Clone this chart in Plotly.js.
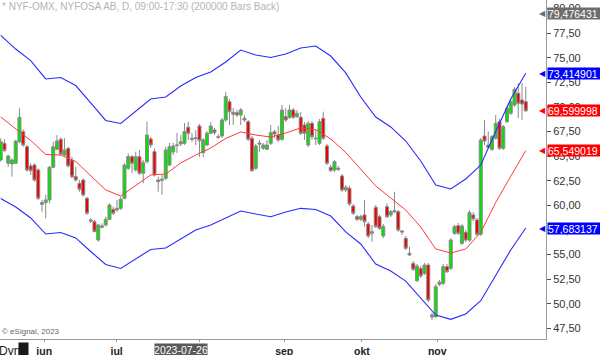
<!DOCTYPE html>
<html><head><meta charset="utf-8">
<script src="https://cdn.plot.ly/plotly-3.0.1.min.js"></script>
<style>html,body{margin:0;padding:0;background:#fff;overflow:hidden}#chart{width:600px;height:355px}</style>
</head><body><div id="chart"></div>
<script>
// OHLC values, one per daily bar (NYFOSA AB)
const openP = [
64.60,66.30,64.27,64.20,64.27,66.46,67.48,65.95,64.00,64.09,
63.59,60.27,60.27,60.54,63.86,65.69,66.71,65.11,65.79,64.60,
62.91,62.24,62.57,60.71,58.51,58.33,56.47,57.76,58.00,58.58,
59.59,59.52,59.70,60.71,63.76,64.94,63.59,64.94,63.25,64.43,
66.74,65.45,62.57,62.54,62.74,64.09,65.42,66.08,66.23,66.30,
67.93,66.81,66.86,68.06,65.35,66.13,67.32,67.65,66.97,67.04,
68.67,70.53,69.25,69.41,69.18,68.84,68.50,66.81,63.76,66.33,
65.79,65.69,66.30,67.48,67.14,66.71,69.00,68.94,69.69,69.00,
68.94,68.16,66.13,68.33,66.84,66.30,68.84,66.03,63.86,63.59,
63.76,62.98,61.56,61.73,59.93,58.84,58.58,59.02,58.10,57.15,
59.79,58.84,56.88,59.86,59.02,59.45,59.35,57.39,56.64,55.12,
54.10,52.33,53.59,53.08,53.93,48.65,48.68,51.96,52.07,53.76,
53.59,57.15,57.93,56.13,57.25,56.47,59.02,58.51,57.05,67.04,
66.13,65.69,66.81,68.50,65.79,68.50,69.35,70.19,71.38,70.70,70.53];
const highP = [
66.81,66.71,65.12,64.77,66.64,69.86,67.72,66.13,64.27,64.27,
63.76,60.54,61.05,63.99,66.46,67.14,66.91,66.81,65.95,64.94,
63.92,62.57,62.74,60.87,58.71,58.51,58.10,58.17,58.84,60.20,
59.86,60.54,60.87,64.27,65.28,65.11,65.45,65.62,64.60,68.50,
66.94,65.79,62.91,63.08,65.95,66.33,66.33,67.35,67.14,68.36,
68.50,67.35,67.65,68.26,66.84,67.55,68.47,67.86,67.25,68.87,
71.51,70.80,69.89,69.69,69.89,69.18,68.67,67.04,66.23,66.64,
66.33,66.64,68.16,67.65,68.06,70.19,69.89,70.19,69.89,69.69,
69.48,68.47,68.57,68.57,67.65,68.77,69.51,66.23,64.09,64.60,
63.99,63.18,62.06,61.96,60.13,59.02,59.02,60.54,58.30,58.00,
60.03,59.02,58.10,60.20,59.52,61.38,59.52,57.49,56.88,55.80,
54.34,54.03,53.83,54.13,54.13,49.06,52.00,52.41,54.03,54.03,
56.67,58.00,58.20,58.10,57.49,59.52,59.32,58.71,66.84,68.67,
67.48,67.14,69.18,68.77,68.16,70.09,70.80,72.02,72.40,72.43,72.05];
const lowP = [
64.43,65.45,63.92,62.91,64.20,66.30,65.95,63.42,63.08,62.40,
60.54,59.35,58.68,60.20,63.76,65.62,65.01,64.94,63.86,62.74,
62.40,61.38,60.87,59.02,58.20,57.29,56.30,57.66,57.83,58.51,
59.02,59.35,59.52,60.61,63.59,63.25,63.42,63.08,62.24,64.27,
65.82,62.91,61.38,61.05,62.57,63.99,65.11,65.31,66.03,66.13,
66.64,66.43,66.13,64.91,64.91,66.03,67.25,67.14,66.74,66.84,
68.47,68.16,68.16,68.97,68.16,68.47,66.54,63.38,63.59,65.45,
65.62,65.62,66.13,66.84,66.43,66.54,68.47,68.77,68.77,68.87,
67.14,66.64,65.92,66.64,66.13,66.13,66.64,64.09,63.38,63.38,
63.49,61.35,61.35,59.93,59.02,58.40,58.40,57.83,56.67,56.30,
57.69,57.49,56.67,58.68,58.81,59.21,57.29,56.98,55.46,54.85,
53.32,52.20,52.61,52.91,50.17,48.34,48.55,51.80,51.90,53.12,
53.42,56.98,56.98,55.97,56.27,56.27,58.40,56.88,56.88,66.13,
65.72,65.52,66.64,65.62,65.62,68.36,69.18,69.99,68.87,68.67,69.48];
const closeP = [
66.46,65.55,65.01,64.60,66.53,68.94,66.13,63.59,63.52,62.57,
60.71,60.10,60.54,63.86,65.95,66.53,65.21,65.62,64.00,62.91,
62.57,61.63,61.05,59.19,58.40,57.32,58.00,57.90,58.58,60.03,
59.19,59.70,60.61,64.09,64.94,64.27,64.94,63.25,64.33,67.14,
66.13,63.08,62.40,62.64,65.62,65.95,66.03,66.13,66.46,67.48,
67.32,66.71,66.80,66.57,66.64,67.32,68.06,67.38,66.91,68.67,
71.04,69.51,69.45,69.18,69.69,68.67,66.71,63.52,66.03,66.23,
66.13,66.13,67.38,67.25,66.64,69.69,68.67,69.69,68.94,69.35,
67.32,67.32,68.33,66.97,66.77,68.50,66.81,64.27,63.52,64.43,
63.66,61.56,61.83,60.13,59.19,58.58,58.84,58.33,56.88,57.32,
57.83,57.66,57.83,58.84,59.35,59.35,57.49,57.29,55.63,54.95,
53.49,53.83,52.81,53.93,50.38,48.85,51.73,52.20,53.76,53.25,
56.47,57.83,57.15,57.90,56.47,59.25,58.61,57.05,66.64,66.53,
65.89,66.97,68.33,65.79,67.99,69.86,70.53,71.79,70.36,70.29,69.60];

// Band indicator (blue upper/lower, red middle), read every 4th bar
const bandBars = [0,4,8,12,16,20,24,28,32,36,40,44,48,52,56,60,64,68,72,76,80,84,88,92,96,100,104,108,112,116,120,124,128,132,136,140];
const upperBand = [77.26,75.88,74.70,72.84,72.99,72.17,70.40,68.62,68.31,69.53,70.80,71.01,72.12,72.99,73.55,74.56,75.78,75.27,75.02,75.38,75.99,76.19,75.17,73.45,71.01,68.97,67.96,66.53,64.50,62.06,61.66,62.67,64.09,67.50,70.80,73.41];
const midBand = [68.97,67.75,66.58,65.16,65.11,64.45,63.01,61.56,60.94,61.99,63.08,63.18,64.30,65.11,65.82,66.79,67.45,67.14,66.94,67.35,67.86,67.70,66.74,65.37,63.69,61.96,60.74,59.52,57.79,55.56,55.15,55.56,57.25,60.30,62.95,65.55];
const lowerBand = [60.69,59.83,58.71,57.08,57.23,56.68,55.30,53.98,53.58,54.54,55.51,55.66,56.57,57.49,58.00,58.71,59.42,59.11,58.84,59.32,59.69,59.57,58.91,57.29,56.07,54.03,53.32,52.30,50.53,48.85,48.41,48.95,50.30,52.92,55.46,57.69];

// Axis labels (the August label is covered by the crosshair date in the reference)
const monthTickBars = [11.6, 30.9, 52.9, 75.6, 96.3, 116.4];
const monthLabels = ['jun','jul','','sep','okt','nov'];

// Right-edge value tags
const tagValues = [79.476431, 73.414901, 69.599998, 65.549019, 57.683137];
const tagColors = ['#6e6e6e', '#0000ff', '#ff0000', '#ff0000', '#0000ff'];

const crosshairBar = 48;
const crosshairDate = '2023-07-26';
const chartTitle = '* NYF-OMX, NYFOSA AB, D, 09:00-17:30 (200000 Bars Back)';
const copyrightText = '\u00a9 eSignal, 2023';

const FONT = 'Liberation Sans, Arial, sans-serif';
const barIndex = openP.map((_, i) => i);

const traces = [
  {
    type: 'candlestick', x: barIndex, open: openP, high: highP, low: lowP, close: closeP,
    increasing: {line: {color: '#8a8a8a', width: 1}, fillcolor: '#00e400'},
    decreasing: {line: {color: '#8a8a8a', width: 1}, fillcolor: '#ee0000'},
    whiskerwidth: 0, showlegend: false, hoverinfo: 'skip'
  },
  {type: 'scatter', mode: 'lines', x: bandBars, y: upperBand, line: {color: '#2a2aff', width: 1.1}, showlegend: false, hoverinfo: 'skip'},
  {type: 'scatter', mode: 'lines', x: bandBars, y: midBand, line: {color: '#ff3a3a', width: 1}, showlegend: false, hoverinfo: 'skip'},
  {type: 'scatter', mode: 'lines', x: bandBars, y: lowerBand, line: {color: '#2a2aff', width: 1.1}, showlegend: false, hoverinfo: 'skip'}
];

const annotations = [];
annotations.push({xref: 'paper', yref: 'paper', x: 0, y: 1, xanchor: 'left', yanchor: 'top', yshift: 1,
  text: chartTitle, showarrow: false, font: {family: FONT, size: 10, color: '#b4b4b4'}});
annotations.push({xref: 'paper', yref: 'paper', x: 0, y: 0, xanchor: 'left', yanchor: 'bottom', yshift: 1,
  text: copyrightText, showarrow: false, font: {family: FONT, size: 8, color: '#666'}});
annotations.push({xref: 'paper', yref: 'paper', x: 0, y: 0, xanchor: 'left', yanchor: 'top', xshift: -3, yshift: -3,
  text: 'Dyn', showarrow: false, font: {family: FONT, size: 12, color: '#222'}});
annotations.push({xref: 'paper', yref: 'paper', x: 0, y: 0, xanchor: 'left', yanchor: 'top', xshift: 18, yshift: -3,
  text: '\u00a0', showarrow: false, bgcolor: '#1a1a1a', width: 9, height: 13, borderpad: 0, font: {family: FONT, size: 10, color: '#888'}});
annotations.push({xref: 'x', yref: 'paper', x: crosshairBar, y: 0, xanchor: 'center', yanchor: 'top', yshift: -4,
  text: crosshairDate, showarrow: false, bgcolor: '#5a5a5a', borderpad: 0, width: 52, height: 12,
  font: {family: FONT, size: 10.5, color: '#fff'}});
tagValues.forEach((v, k) => {
  annotations.push({xref: 'paper', yref: 'y', x: 1, y: v, xanchor: 'left', yanchor: 'middle', xshift: 1,
    text: v.toFixed(6).replace('.', ','), showarrow: false, bgcolor: tagColors[k], borderpad: 0,
    width: 54, height: 11, align: 'left', font: {family: FONT, size: 10.5, color: '#fff'}});
  annotations.push({xref: 'paper', yref: 'y', x: 1, y: v, xanchor: 'right', yanchor: 'middle', xshift: 2,
    text: '\u25c0', showarrow: false, font: {family: 'DejaVu Sans', size: 8, color: tagColors[k]}});
});

const layout = {
  width: 600, height: 355,
  margin: {l: 0, r: 54, t: 0, b: 16, pad: 0},
  paper_bgcolor: '#fff', plot_bgcolor: '#fff',
  separators: ',.',
  showlegend: false,
  boxgap: 0.2, boxgroupgap: 0,
  font: {family: FONT, size: 11, color: '#333'},
  xaxis: {
    range: [-0.19, 145.4], fixedrange: true, rangeslider: {visible: false},
    tickmode: 'array', tickvals: monthTickBars, ticktext: monthLabels,
    showgrid: false, zeroline: false, showline: true, linecolor: '#9a9a9a', linewidth: 1,
    ticks: 'outside', ticklen: 2, tickcolor: '#9a9a9a',
    tickfont: {family: FONT, size: 10.5, color: '#222', weight: 'bold'}
  },
  yaxis: {
    side: 'right', range: [46.41, 80.864], fixedrange: true,
    tick0: 47.5, dtick: 2.5, tickformat: '.2f',
    showgrid: false, zeroline: false, showline: true, linecolor: '#9a9a9a', linewidth: 1,
    ticks: 'outside', ticklen: 4, tickcolor: '#555',
    tickfont: {family: FONT, size: 11, color: '#333'}
  },
  annotations: annotations
};

Plotly.newPlot('chart', traces, layout, {staticPlot: true, displayModeBar: false});
</script>
</body></html>
